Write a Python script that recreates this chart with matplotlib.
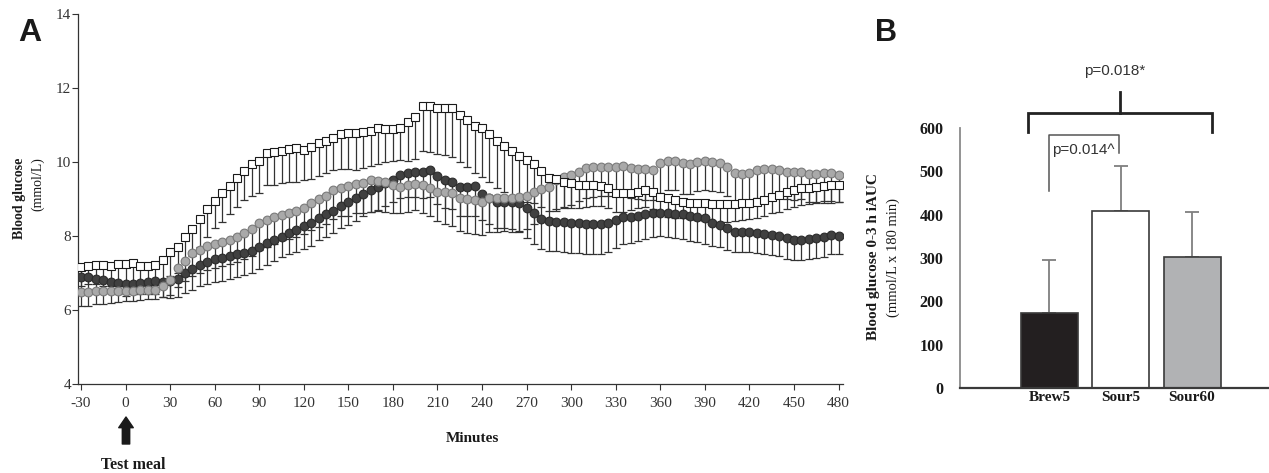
import numpy as np
import matplotlib
matplotlib.use("Agg")
import matplotlib.pyplot as plt

plt.rcParams["font.family"] = ["Liberation Serif", "DejaVu Serif"]

W, H = 1269, 473

# ---- panel A: blood glucose over time (5-min samples) ----
minutes = np.arange(-30, 481, 5)

sq_mean = [7.15, 7.19, 7.21, 7.21, 7.19, 7.23, 7.24, 7.26, 7.19, 7.20,
           7.22, 7.36, 7.56, 7.70, 7.96, 8.18, 8.46, 8.73, 8.95, 9.17,
           9.36, 9.58, 9.76, 9.95, 10.03, 10.23, 10.28, 10.31, 10.36, 10.38,
           10.32, 10.41, 10.50, 10.58, 10.66, 10.75, 10.79, 10.79, 10.80, 10.84,
           10.93, 10.88, 10.88, 10.91, 11.07, 11.22, 11.51, 11.50, 11.47, 11.45,
           11.45, 11.27, 11.14, 10.97, 10.91, 10.76, 10.58, 10.43, 10.31, 10.17,
           10.05, 9.94, 9.76, 9.58, 9.53, 9.47, 9.42, 9.39, 9.38, 9.38,
           9.36, 9.29, 9.15, 9.15, 9.17, 9.20, 9.24, 9.20, 9.06, 9.02,
           8.97, 8.93, 8.90, 8.88, 8.88, 8.86, 8.86, 8.86, 8.86, 8.88,
           8.90, 8.93, 8.97, 9.06, 9.11, 9.20, 9.24, 9.29, 9.31, 9.33,
           9.35, 9.37, 9.39]
sq_err = [0.50, 0.50, 0.52, 0.55, 0.55, 0.55, 0.58, 0.60, 0.55, 0.55,
          0.55, 0.60, 0.65, 0.70, 0.70, 0.72, 0.75, 0.75, 0.74, 0.78,
          0.77, 0.79, 0.79, 0.87, 0.86, 0.85, 0.90, 0.89, 0.90, 0.91,
          0.81, 0.88, 0.88, 0.87, 0.88, 0.95, 0.99, 1.01, 0.97, 0.95,
          0.98, 0.87, 0.85, 0.86, 1.03, 1.15, 1.20, 1.22, 1.26, 1.27,
          1.31, 1.26, 1.27, 1.28, 1.31, 1.30, 1.28, 1.25, 1.22, 1.18,
          1.12, 1.05, 0.98, 0.90, 0.80, 0.72, 0.65, 0.62, 0.60, 0.58,
          0.55, 0.52, 0.50, 0.50, 0.48, 0.45, 0.45, 0.46, 0.48, 0.50,
          0.48, 0.45, 0.45, 0.46, 0.48, 0.48, 0.48, 0.48, 0.46, 0.45,
          0.45, 0.44, 0.44, 0.45, 0.45, 0.46, 0.46, 0.46, 0.45, 0.45,
          0.46, 0.48, 0.48]

lg_mean = [6.49, 6.49, 6.51, 6.51, 6.51, 6.51, 6.52, 6.52, 6.54, 6.54,
           6.54, 6.65, 6.81, 7.13, 7.33, 7.53, 7.63, 7.72, 7.78, 7.83,
           7.89, 7.97, 8.07, 8.19, 8.34, 8.43, 8.51, 8.58, 8.63, 8.68,
           8.77, 8.88, 8.99, 9.08, 9.24, 9.31, 9.35, 9.41, 9.44, 9.50,
           9.49, 9.45, 9.38, 9.33, 9.38, 9.41, 9.38, 9.31, 9.20, 9.18,
           9.15, 9.04, 9.00, 8.97, 8.93, 9.02, 9.04, 9.04, 9.02, 9.06,
           9.08, 9.20, 9.26, 9.33, 9.50, 9.60, 9.65, 9.74, 9.83, 9.86,
           9.87, 9.86, 9.87, 9.89, 9.83, 9.80, 9.80, 9.78, 9.96, 10.04,
           10.04, 9.96, 9.95, 10.01, 10.04, 10.01, 9.96, 9.86, 9.69, 9.68,
           9.71, 9.78, 9.80, 9.80, 9.78, 9.74, 9.72, 9.74, 9.68, 9.68,
           9.69, 9.69, 9.65]
lg_err = [0.38, 0.38, 0.36, 0.35, 0.32, 0.30, 0.28, 0.28, 0.26, 0.25,
          0.25, 0.30, 0.40, 0.50, 0.55, 0.60, 0.62, 0.65, 0.65, 0.65,
          0.66, 0.68, 0.70, 0.72, 0.72, 0.72, 0.72, 0.70, 0.70, 0.70,
          0.72, 0.72, 0.75, 0.75, 0.78, 0.78, 0.80, 0.80, 0.82, 0.85,
          0.82, 0.80, 0.75, 0.70, 0.72, 0.72, 0.75, 0.78, 0.80, 0.85,
          0.88, 0.90, 0.92, 0.92, 0.90, 0.92, 0.92, 0.90, 0.92, 0.92,
          0.90, 0.88, 0.85, 0.85, 0.82, 0.82, 0.80, 0.80, 0.80, 0.80,
          0.78, 0.78, 0.78, 0.80, 0.80, 0.80, 0.82, 0.82, 0.80, 0.80,
          0.80, 0.82, 0.82, 0.80, 0.80, 0.80, 0.78, 0.78, 0.75, 0.75,
          0.75, 0.76, 0.78, 0.78, 0.76, 0.75, 0.75, 0.75, 0.76, 0.76,
          0.75, 0.75, 0.74]

dk_mean = [6.90, 6.89, 6.85, 6.80, 6.77, 6.74, 6.69, 6.71, 6.74, 6.76,
           6.78, 6.76, 6.78, 6.85, 6.99, 7.10, 7.22, 7.30, 7.37, 7.40,
           7.46, 7.51, 7.55, 7.60, 7.70, 7.80, 7.89, 7.98, 8.08, 8.17,
           8.27, 8.36, 8.48, 8.59, 8.68, 8.81, 8.93, 9.02, 9.14, 9.24,
           9.33, 9.42, 9.51, 9.65, 9.71, 9.74, 9.74, 9.78, 9.62, 9.51,
           9.47, 9.33, 9.33, 9.35, 9.14, 9.02, 8.93, 8.93, 8.93, 8.88,
           8.75, 8.61, 8.47, 8.40, 8.39, 8.37, 8.34, 8.34, 8.32, 8.32,
           8.32, 8.36, 8.43, 8.50, 8.52, 8.54, 8.59, 8.63, 8.63, 8.61,
           8.59, 8.59, 8.55, 8.52, 8.48, 8.36, 8.30, 8.21, 8.12, 8.12,
           8.12, 8.09, 8.05, 8.03, 8.00, 7.94, 7.89, 7.89, 7.91, 7.94,
           7.98, 8.03, 8.01]
dk_err = [0.35, 0.35, 0.32, 0.30, 0.30, 0.30, 0.30, 0.28, 0.30, 0.32,
          0.35, 0.40, 0.45, 0.50, 0.52, 0.55, 0.58, 0.60, 0.62, 0.62,
          0.62, 0.62, 0.60, 0.60, 0.60, 0.58, 0.56, 0.55, 0.58, 0.60,
          0.62, 0.62, 0.60, 0.62, 0.60, 0.60, 0.62, 0.62, 0.60, 0.60,
          0.62, 0.62, 0.60, 0.62, 0.65, 0.68, 0.70, 0.72, 0.75, 0.75,
          0.75, 0.78, 0.80, 0.80, 0.70, 0.70, 0.72, 0.72, 0.75, 0.78,
          0.80, 0.82, 0.82, 0.80, 0.80, 0.80, 0.80, 0.80, 0.80, 0.80,
          0.80, 0.78, 0.75, 0.72, 0.70, 0.68, 0.66, 0.65, 0.64, 0.64,
          0.65, 0.66, 0.68, 0.68, 0.70, 0.62, 0.60, 0.58, 0.56, 0.56,
          0.56, 0.55, 0.55, 0.55, 0.55, 0.55, 0.54, 0.54, 0.54, 0.54,
          0.54, 0.52, 0.50]

x_ticks = list(range(-30, 481, 30))
y_ticks = [4, 6, 8, 10, 12, 14]

# ---- panel B: iAUC bars ----
groups = ["Brew5", "Sour5", "Sour60"]
auc = [172, 408, 302]
auc_err = [123, 104, 104]
bar_fill = ["#231f20", "#ffffff", "#b1b2b4"]
auc_ticks = [0, 100, 200, 300, 400, 500, 600]


def fx(px):
    return px / W


def fy(py):
    return 1 - py / H


fig = plt.figure(figsize=(W / 100, H / 100), dpi=100)

# ---------------- panel A ----------------
axA = fig.add_axes([fx(78), fy(384), fx(843) - fx(78), fy(14) - fy(384)])
series = [
    (dk_mean, dk_err, "o", "#404040", "#2b2b2b", 2),
    (lg_mean, lg_err, "o", "#a9a9a9", "#7a7a7a", 3),
    (sq_mean, sq_err, "s", "#ffffff", "#1a1a1a", 4),
]
for mean, err, mk, fc, ec, z in series:
    m = np.array(mean)
    e = np.array(err)
    axA.errorbar(minutes, m, yerr=[e, np.zeros_like(e)], fmt="none",
                 ecolor="#333333", elinewidth=0.9, capsize=3, capthick=0.9,
                 zorder=1)
    axA.plot(minutes, m, linestyle="none", marker=mk, markersize=6.3,
             markerfacecolor=fc, markeredgecolor=ec, markeredgewidth=0.8,
             zorder=z)

axA.set_xlim(-32, 483)
axA.set_ylim(4, 14)
axA.set_xticks(x_ticks)
axA.set_xticklabels([str(v) for v in x_ticks])
axA.set_yticks(y_ticks)
axA.tick_params(axis="both", labelsize=11, length=4, width=0.8,
                direction="out", colors="#333333")
axA.tick_params(axis="x", pad=5)
axA.tick_params(axis="y", pad=1)
for s in ("top", "right"):
    axA.spines[s].set_visible(False)
for s in ("left", "bottom"):
    axA.spines[s].set_color("#333333")
    axA.spines[s].set_linewidth(0.9)

fig.text(fx(20), fy(198), "Blood glucose", rotation=90, ha="center",
         va="center", fontsize=10, fontweight="bold", color="#1a1a1a")
fig.text(fx(38), fy(184), "(mmol/L)", rotation=90, ha="center",
         va="center", fontsize=10, color="#1a1a1a")
fig.text(fx(472), fy(438), "Minutes", ha="center", va="center",
         fontsize=11, fontweight="bold", color="#1a1a1a")
fig.text(fx(133), fy(465), "Test meal", ha="center", va="center",
         fontsize=11.5, fontweight="bold", color="#1a1a1a")
axA.annotate("", xy=(fx(126), fy(417)), xytext=(fx(126), fy(444)),
             xycoords="figure fraction", textcoords="figure fraction",
             arrowprops=dict(arrowstyle="simple,head_length=0.55,head_width=0.75,tail_width=0.38",
                             color="#1a1a1a", mutation_scale=14, shrinkA=0, shrinkB=0))
fig.text(fx(30), fy(33), "A", ha="center", va="center", fontsize=23,
         fontweight="bold", family=["Liberation Sans", "DejaVu Sans"], color="#1a1a1a")

# ---------------- panel B ----------------
axB = fig.add_axes([fx(960), fy(388), 1 - fx(960), fy(128) - fy(388)])
xpos = np.arange(len(groups))
eb = axB.errorbar(xpos, auc, yerr=[np.zeros(3), auc_err], fmt="none",
                  ecolor="#7f7f7f", elinewidth=1.3, capsize=5, capthick=1.3,
                  zorder=1)
for cl in eb[1]:
    cl.set_color("#222222")
axB.bar(xpos, auc, width=0.8, color=bar_fill, edgecolor="#3a3a3a",
        linewidth=1.2, zorder=2)
axB.set_xlim(-1.255, 3.08)
axB.set_ylim(0, 600)
axB.set_yticks(auc_ticks)
axB.set_xticks(xpos)
axB.set_xticklabels(groups)
axB.tick_params(axis="y", length=0, pad=12, labelsize=11.5)
axB.tick_params(axis="x", length=0, pad=2, labelsize=11)
for lab in axB.get_xticklabels() + axB.get_yticklabels():
    lab.set_fontweight("bold")
    lab.set_color("#1a1a1a")
for s in ("top", "right"):
    axB.spines[s].set_visible(False)
axB.spines["left"].set_color("#8a8a8a")
axB.spines["left"].set_linewidth(1.3)
axB.spines["bottom"].set_color("#3a3a3a")
axB.spines["bottom"].set_linewidth(1.6)

# significance brackets
axB.plot([-0.30, -0.30, 2.28, 2.28], [591, 635, 635, 591], color="#222222",
         lw=2.0, clip_on=False, solid_joinstyle="miter")
axB.plot([0.99, 0.99], [635, 683], color="#222222", lw=2.0, clip_on=False)
axB.text(0.92, 732, "p=0.018*", ha="center", va="center", fontsize=11,
         family=["Liberation Sans", "DejaVu Sans"], color="#333333", clip_on=False)
axB.plot([0.0, 0.0, 0.975, 0.975], [455, 584, 584, 542], color="#555555",
         lw=1.1, clip_on=False)
axB.text(0.47, 549, "p=0.014^", ha="center", va="center", fontsize=11,
         family=["Liberation Sans", "DejaVu Sans"], color="#333333", clip_on=False)

fig.text(fx(873), fy(257), "Blood glucose 0-3 h iAUC", rotation=90,
         ha="center", va="center", fontsize=11, fontweight="bold", color="#1a1a1a")
fig.text(fx(893), fy(257), "(mmol/L x 180 min)", rotation=90,
         ha="center", va="center", fontsize=10.5, color="#1a1a1a")
fig.text(fx(886), fy(33), "B", ha="center", va="center", fontsize=22,
         fontweight="bold", family=["Liberation Sans", "DejaVu Sans"], color="#1a1a1a")

fig.savefig("out.png", dpi=100)
